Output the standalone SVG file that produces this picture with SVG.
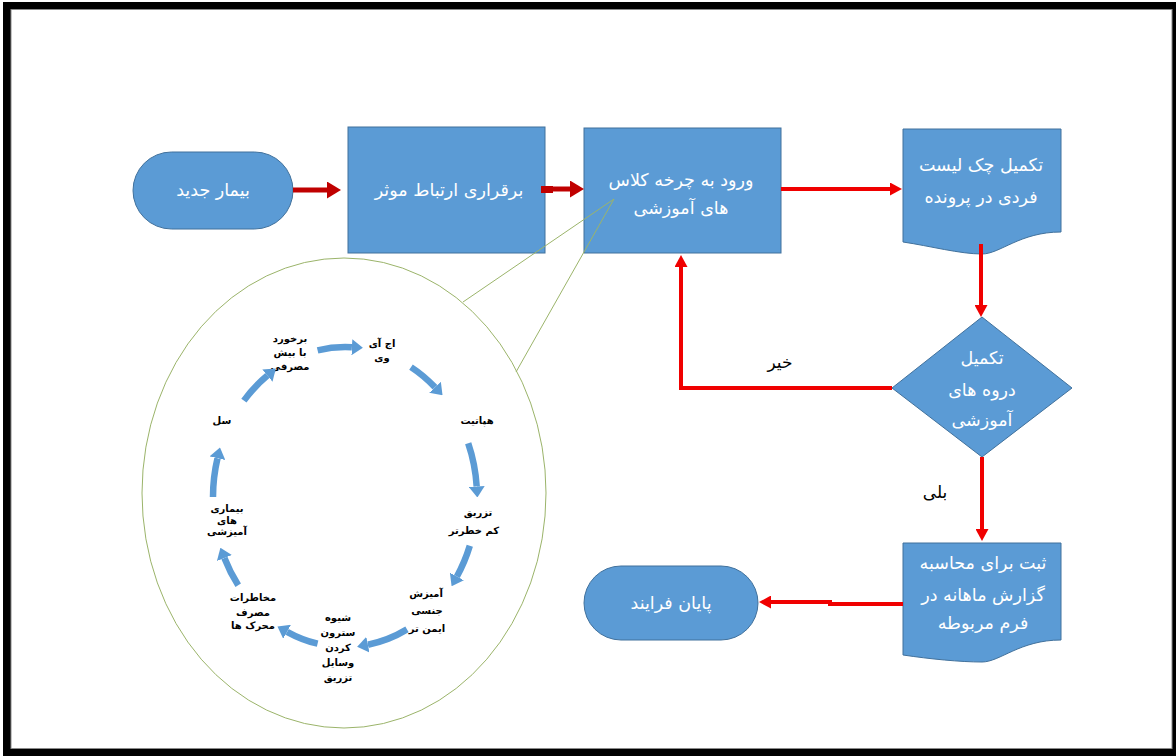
<svg xmlns="http://www.w3.org/2000/svg" width="1176" height="756" viewBox="0 0 1176 756">
<style>
.node{fill:#5b9bd5;stroke:#41719c;stroke-width:1}
.nt{font-family:"DejaVu Sans","Liberation Sans",sans-serif;font-size:17.5px;fill:#ffffff;text-anchor:middle}
.lbl{font-family:"DejaVu Sans","Liberation Sans",sans-serif;font-size:17px;fill:#000000;text-anchor:middle}
.ct{font-family:"DejaVu Sans","Liberation Sans",sans-serif;font-size:10px;font-weight:bold;fill:#000000;text-anchor:middle}
.dr{fill:none;stroke:#c00000;stroke-width:5}
.rd{fill:none;stroke:#f00000;stroke-width:4}
.cyc{fill:none;stroke:#5b9bd5;stroke-width:6.5}
.callout{fill:none;stroke:#9bb46a;stroke-width:1}
</style>
<defs>
<marker id="hd" markerUnits="userSpaceOnUse" markerWidth="14" markerHeight="17" viewBox="0 0 14 17" refX="0" refY="8.5" orient="auto"><path d="M0,0 L14,8.5 L0,17 Z" fill="#c00000"/></marker>
<marker id="hr" markerUnits="userSpaceOnUse" markerWidth="12" markerHeight="13" viewBox="0 0 12 13" refX="0" refY="6.5" orient="auto"><path d="M0,0 L12,6.5 L0,13 Z" fill="#f00000"/></marker>
<marker id="hb" markerUnits="userSpaceOnUse" markerWidth="11" markerHeight="16" viewBox="0 0 11 16" refX="0" refY="8" orient="auto"><path d="M0,0 L11,8 L0,16 Z" fill="#5b9bd5"/></marker>
</defs>
<rect x="3" y="2" width="1173" height="754" fill="#000000"/>
<rect x="11" y="9.5" width="1161" height="739" fill="#ffffff" stroke="#8a8a8a" stroke-width="1"/>

<g id="n1"><rect x="133" y="152" width="160" height="77" rx="38.5" class="node"/><text x="213" y="196" class="nt">بیمار جدید</text></g>
<g id="n2"><rect x="348" y="127" width="197" height="126" class="node"/><text x="449" y="196" class="nt">برقراری ارتباط موثر</text></g>
<g id="n3"><rect x="584" y="128" width="197" height="125" class="node"/><text x="681" y="186" class="nt">ورود به چرخه کلاس</text><text x="681" y="214" class="nt">های آموزشی</text></g>
<g id="n4"><path d="M903,129 H1061 V232 C1020,232 1000,254 982,254 C960,254 930,246 903,242 Z" class="node"/><text x="981" y="171" class="nt">تکمیل چک لیست</text><text x="981" y="203" class="nt">فردی در پرونده</text></g>
<g id="n5"><path d="M982,317 L1072,388 L982,457 L892,388 Z" class="node"/><text x="982" y="364" class="nt">تکمیل</text><text x="982" y="396" class="nt">دروه های</text><text x="982" y="426" class="nt">آموزشی</text></g>
<g id="n6"><path d="M903,543 H1061 V640 C1020,640 1000,662 982,662 C960,662 930,659 903,655 Z" class="node"/><text x="983" y="569" class="nt">ثبت برای محاسبه</text><text x="983" y="601" class="nt">گزارش ماهانه در</text><text x="983" y="629" class="nt">فرم مربوطه</text></g>
<g id="n7"><rect x="584" y="566" width="174" height="74" rx="37" class="node"/><text x="671" y="609" class="nt">پایان فرایند</text></g>

<g id="callout">
<ellipse cx="344" cy="493" rx="202" ry="235" class="callout"/>
<line x1="614" y1="199" x2="463" y2="302" class="callout"/>
<line x1="614" y1="199" x2="516" y2="372" class="callout"/>
</g>

<g id="cycle">
<text class="ct"><tspan x="290" y="342">برخورد</tspan><tspan x="290" y="356">با بیش</tspan><tspan x="290" y="370">مصرفی</tspan></text>
<text class="ct"><tspan x="382" y="347">اج آی</tspan><tspan x="382" y="361">وی</tspan></text>
<text class="ct" x="477" y="424">هپاتیت</text>
<text class="ct"><tspan x="478" y="516">تزریق</tspan><tspan x="474" y="534">کم خطرتر</tspan></text>
<text class="ct"><tspan x="426" y="597">آمیزش</tspan><tspan x="427" y="614">جنسی</tspan><tspan x="427" y="632">ایمن تر</tspan></text>
<text class="ct"><tspan x="338" y="621">شیوه</tspan><tspan x="338" y="636">سترون</tspan><tspan x="338" y="651">کردن</tspan><tspan x="338" y="666">وسایل</tspan><tspan x="338" y="681">تزریق</tspan></text>
<text class="ct"><tspan x="253" y="601">مخاطرات</tspan><tspan x="253" y="616">مصرف</tspan><tspan x="253" y="629">محرک ها</tspan></text>
<text class="ct"><tspan x="227" y="512">بیماری</tspan><tspan x="227" y="524">های</tspan><tspan x="227" y="535">آمیزشی</tspan></text>
<text class="ct" x="222" y="424">سل</text>
<g marker-end="url(#hb)">
<path class="cyc" d="M317.6,350.3 A132,150 0 0 1 351.9,347.2"/>
<path class="cyc" d="M411,367.1 A132,150 0 0 1 435,387.3"/>
<path class="cyc" d="M468.2,443.2 A132,150 0 0 1 476.7,486.5"/>
<path class="cyc" d="M469.8,545.8 A132,150 0 0 1 456.9,576.5"/>
<path class="cyc" d="M407,629.4 A132,150 0 0 1 367.9,644.7"/>
<path class="cyc" d="M317.6,643.7 A132,150 0 0 1 287.1,631.8"/>
<path class="cyc" d="M238.2,585.2 A132,150 0 0 1 224.4,558"/>
<path class="cyc" d="M213,497 A132,150 0 0 1 217.5,458.2"/>
<path class="cyc" d="M243.9,400.6 A132,150 0 0 1 267.4,375.6"/>
</g>
</g>

<g id="connectors">
<path class="dr" d="M293,190 H327" marker-end="url(#hd)"/>
<rect x="541" y="186" width="12" height="7" fill="#c00000"/>
<path class="dr" d="M545,189 H570" marker-end="url(#hd)"/>
<path class="rd" d="M781,189 H890" marker-end="url(#hr)"/>
<path class="rd" d="M981,244 V305" marker-end="url(#hr)"/>
<path class="rd" d="M892,388 H681 V267" marker-end="url(#hr)"/>
<path class="rd" d="M982,457 V529" marker-end="url(#hr)"/>
<path class="rd" d="M903,604 H830 V602 H771" marker-end="url(#hr)"/>
<text class="lbl" x="780" y="368">خیر</text>
<text class="lbl" x="935" y="498">بلی</text>
</g>
</svg>
